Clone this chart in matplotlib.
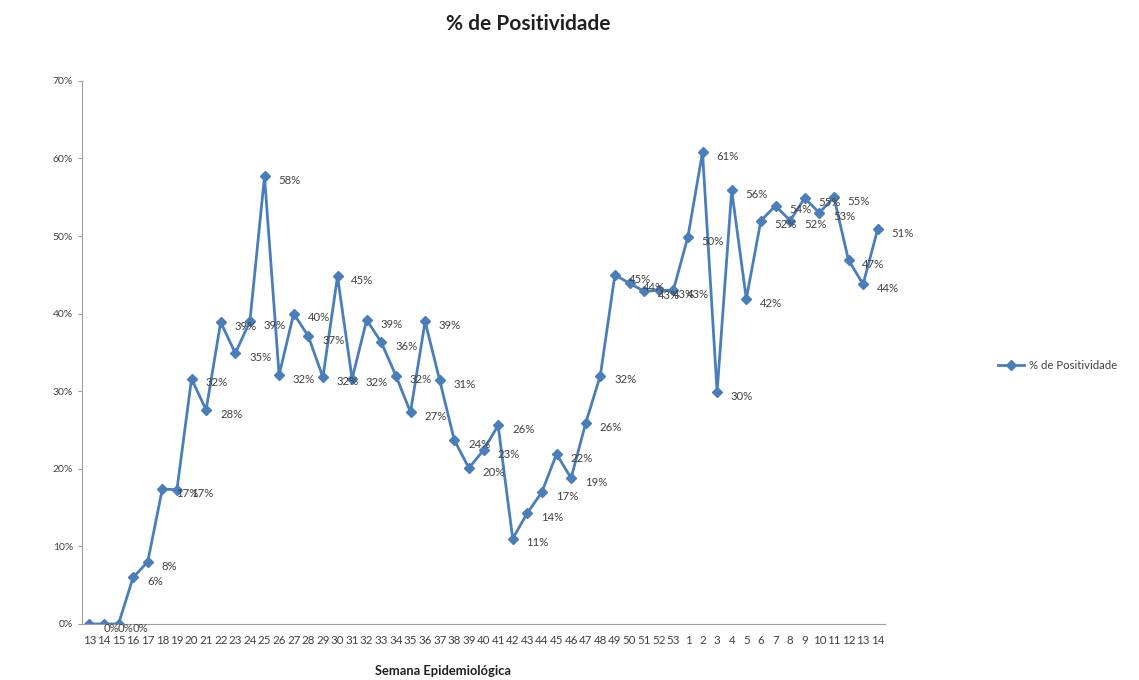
from matplotlib import pyplot as plt
import numpy as np

plt.rcParams['font.family'] = ['Lato', 'DejaVu Sans']

# semanas epidemiologicas (13..53 e depois 1..14)
semanas = [str(s) for s in range(13, 54)] + [str(s) for s in range(1, 15)]
positividade = [0, 0, 0, 6, 8, 17.4, 17.3, 31.6, 27.6, 38.9,
                34.9, 39, 57.7, 32.1, 40, 37.1, 31.8, 44.8, 31.6, 39.2,
                36.3, 32, 27.3, 39, 31.4, 23.7, 20.1, 22.4, 25.6, 11,
                14.3, 17, 21.9, 18.8, 25.9, 32, 45, 43.9, 42.9, 43,
                43, 49.9, 60.8, 29.9, 55.9, 41.9, 52, 53.9, 52, 54.9,
                53, 55, 46.9, 43.8, 50.9]
rotulos = ['0%', '0%', '0%', '6%', '8%', '17%', '17%', '32%', '28%', '39%',
           '35%', '39%', '58%', '32%', '40%', '37%', '32%', '45%', '32%', '39%',
           '36%', '32%', '27%', '39%', '31%', '24%', '20%', '23%', '26%', '11%',
           '14%', '17%', '22%', '19%', '26%', '32%', '45%', '44%', '43%', '43%',
           '43%', '50%', '61%', '30%', '56%', '42%', '52%', '54%', '52%', '55%',
           '53%', '55%', '47%', '44%', '51%']

cor = '#4a7ebb'
fig = plt.figure(figsize=(11.39, 6.8), dpi=100)
ax = fig.add_axes([0.072, 0.0824, 0.705, 0.7986])

x = np.arange(len(semanas))
ax.plot(x, positividade, color=cor, linewidth=2, marker='D', markersize=5.5,
        label='% de Positividade')
for xi, yi, r in zip(x, positividade, rotulos):
    ax.annotate(r, (xi, yi), xytext=(10, -3), textcoords='offset points',
                fontsize=8.2, color='#404040', va='center')

ax.set_xlim(-0.5, len(semanas) - 0.5)
ax.set_ylim(0, 70)
ax.set_yticks(np.arange(0, 71, 10))
ax.set_yticklabels(['%d%%' % v for v in range(0, 71, 10)], fontsize=7.5, color='#404040')
ax.set_xticks(x)
ax.set_xticklabels(semanas, fontsize=8.3, color='#404040')
ax.tick_params(axis='x', length=0, pad=8)
ax.tick_params(axis='y', length=3, color='#a0a0a0')
ax.spines['top'].set_visible(False)
ax.spines['right'].set_visible(False)
ax.spines['left'].set_color('#a0a0a0')
ax.spines['bottom'].set_color('#a0a0a0')

fig.text(0.464, 0.965, '% de Positividade', ha='center', va='center',
         fontsize=15, fontweight='bold', color='#202020')
fig.text(0.389, 0.005, 'Semana Epidemiológica', ha='center', va='bottom',
         fontsize=9.3, fontweight='bold', color='#202020')
fig.legend(loc='center left', bbox_to_anchor=(0.872, 0.462), frameon=False,
           fontsize=8.2, handlelength=2.3, handletextpad=0.4, borderaxespad=0,
           labelcolor='#404040')

plt.savefig('out.png', dpi=100)
